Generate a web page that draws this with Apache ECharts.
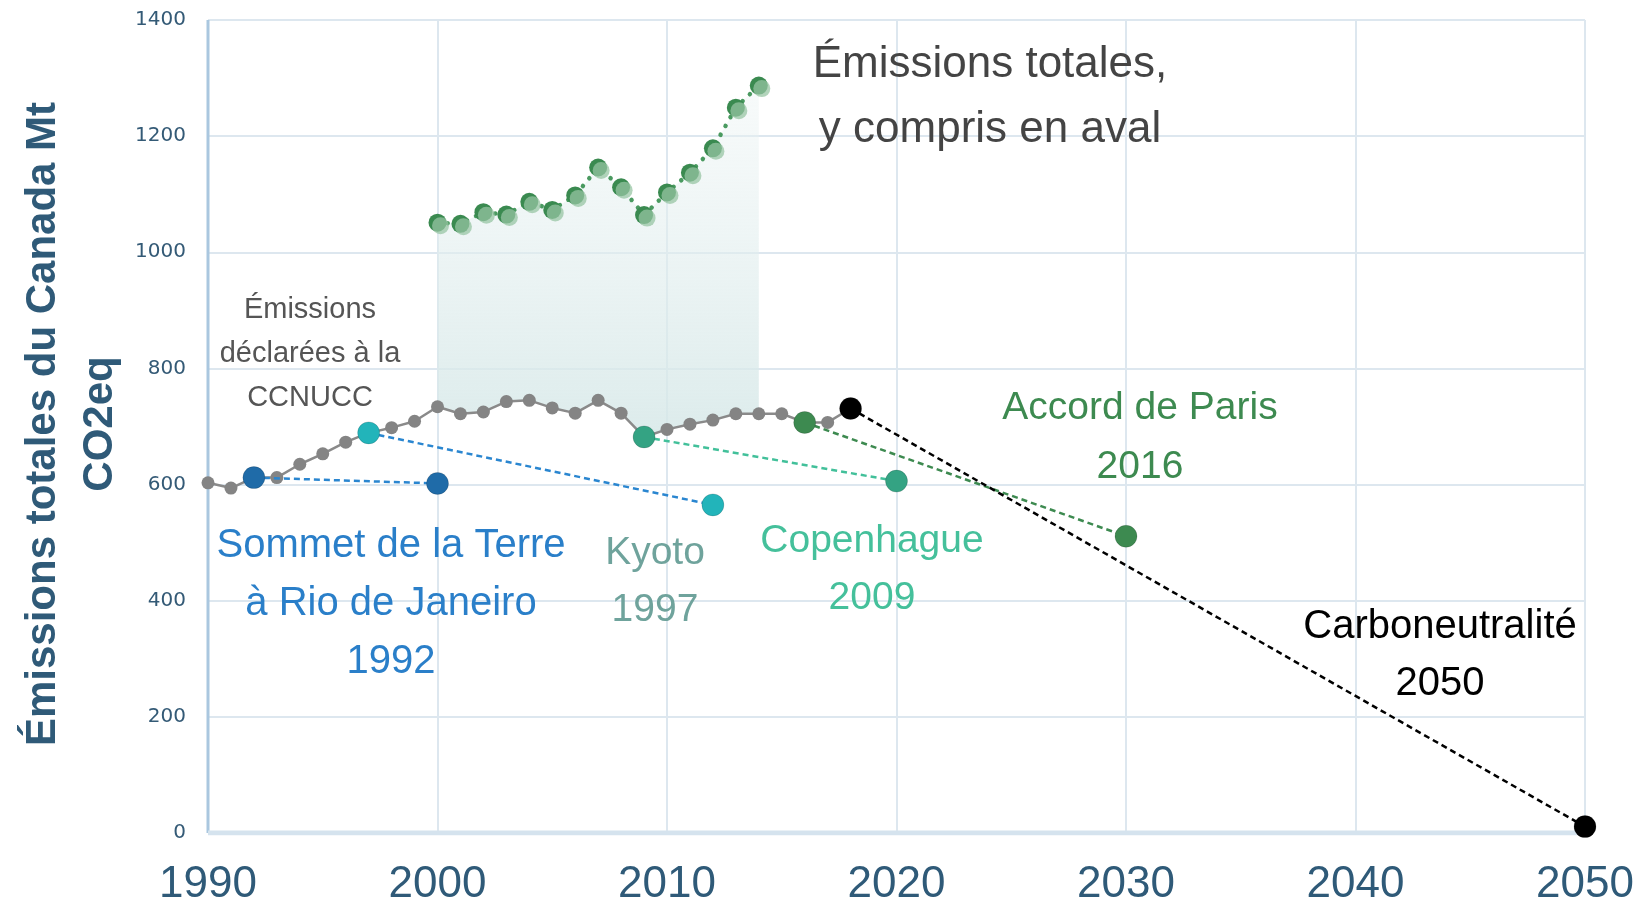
<!DOCTYPE html>
<html>
<head>
<meta charset="utf-8">
<script src="https://cdn.jsdelivr.net/npm/echarts@6/dist/echarts.min.js"></script>
<style>
  html, body { margin: 0; padding: 0; background: #fff; }
  #chart { width: 1640px; height: 903px; }
</style>
</head>
<body>
<div id="chart"></div>
<script>
// émissions déclarées (CCNUCC)
var declYears = [1990,1991,1992,1993,1994,1995,1996,1997,1998,1999,2000,2001,2002,2003,2004,2005,2006,2007,2008,2009,2010,2011,2012,2013,2014,2015,2016,2017,2018];
var declValues = [603,594,612,612,635,653,673,689,698,709,734,722,725,743,745,732,723,745,723,682,695,704,711,722,722,722,707,707,731];
// émissions totales y compris en aval
var avalYears = [2000,2001,2002,2003,2004,2005,2006,2007,2008,2009,2010,2011,2012,2013,2014];
var avalValues = [1051,1049,1069,1065,1087,1073,1098,1146,1112,1064,1103,1137,1179,1249,1287];
// engagements : [année, valeur] début -> cible
var rio = [[1992, 612], [2000, 602]];
var kyoto = [[1997, 689], [2012, 565]];
var copenhague = [[2009, 682], [2020, 606]];
var paris = [[2016, 707], [2030, 511]];
var carbo = [[2018, 731], [2050, 11]];
var xTicks = [1990, 2000, 2010, 2020, 2030, 2040, 2050];

var myChart = echarts.init(document.getElementById('chart'));

function pairs(xs, ys){
    var out = [];
    for (var i = 0; i < xs.length; i++) out.push([xs[i], ys[i]]);
    return out;
}

// ligne pointillée d'engagement
function target(data, lineColor, dotColor){
    return {
        type: 'line',
        data: data,
        z: 5,
        symbol: 'circle',
        symbolSize: 22,
        itemStyle: { color: dotColor, borderColor: 'rgba(0,0,0,0.15)', borderWidth: 1 },
        lineStyle: { color: lineColor, width: 2.5, type: [6, 4] },
        animation: false
    };
}

function txt(text, x, y, size, lh, color){
    return {
        type: 'text', x: x, y: y, z: 100,
        style: {
            text: text, fill: color, align: 'center', verticalAlign: 'middle',
            font: size + 'px "Liberation Sans", Arial, sans-serif', lineHeight: lh
        }
    };
}

var option = {
    animation: false,
    grid: { left: 208, right: 55, top: 20, bottom: 70, containLabel: false, outerBoundsMode: 'none' },
    xAxis: {
        type: 'value', min: 1990, max: 2050, interval: 10,
        axisLine: { show: false },
        axisTick: { show: false },
        splitLine: { lineStyle: { color: '#dde7ef', width: 2 } },
        axisLabel: {
            margin: 30, color: '#2f5a78', fontSize: 44,
            fontFamily: 'Liberation Sans',
            formatter: function(v){ return xTicks.indexOf(v) >= 0 ? String(v) : ''; }
        }
    },
    yAxis: {
        type: 'value', min: 0, max: 1400, interval: 200,
        axisLine: { show: false },
        axisTick: { show: false },
        splitLine: { lineStyle: { color: '#dde7ef', width: 2 } },
        axisLabel: {
            margin: 22, color: '#345a76', fontSize: 20, fontFamily: 'DejaVu Sans',
            formatter: function(v){ return String(v); }
        }
    },
    graphic: [
        // titre de l'axe vertical
        {
            type: 'text', x: 72, y: 424, rotation: Math.PI / 2, z: 100,
            style: {
                text: 'Émissions totales du Canada Mt\nCO2eq',
                fill: '#2f5a78', align: 'center', verticalAlign: 'middle',
                font: 'bold 42px "Liberation Sans", Arial, sans-serif', lineHeight: 57
            }
        },
        txt('Émissions totales,\ny compris en aval', 990, 97, 44, 65, '#444444'),
        txt('Émissions\ndéclarées à la\nCCNUCC', 310, 354, 29, 44, '#555555'),
        txt('Sommet de la Terre\nà Rio de Janeiro\n1992', 391, 604, 40, 58, '#2a7fc9'),
        txt('Kyoto\n1997', 655, 582, 39, 57, '#6fa39c'),
        txt('Copenhague\n2009', 872, 570, 39, 57, '#45c09b'),
        txt('Accord de Paris\n2016', 1140, 438, 39, 59, '#3d8a50'),
        txt('Carboneutralité\n2050', 1440, 655, 40, 57, '#000000')
    ],
    series: [
        // zone entre les deux séries
        {
            type: 'custom',
            z: 1,
            silent: true,
            data: [[avalYears[0], avalValues[0]]],
            renderItem: function(params, api){
                var pts = [];
                for (var i = 0; i < avalYears.length; i++) {
                    pts.push(api.coord([avalYears[i], avalValues[i]]));
                }
                for (var j = declYears.length - 1; j >= 0; j--) {
                    var yr = declYears[j];
                    if (yr >= avalYears[0] && yr <= avalYears[avalYears.length - 1]) {
                        pts.push(api.coord([yr, declValues[j]]));
                    }
                }
                return {
                    type: 'polygon',
                    shape: { points: pts },
                    style: {
                        fill: new echarts.graphic.LinearGradient(0, 0, 0, 1, [
                            { offset: 0, color: 'rgba(235,243,243,0.4)' },
                            { offset: 1, color: 'rgba(214,232,232,0.85)' }
                        ])
                    }
                };
            }
        },
        // axes de bord (bleu clair)
        {
            type: 'line',
            data: [[1990, 0], [1990, 1400]],
            symbol: 'none', z: 2, silent: true,
            lineStyle: { color: '#aac7df', width: 3 }
        },
        {
            type: 'line',
            data: [[1990, 0], [2050, 0]],
            symbol: 'none', z: 2, silent: true,
            lineStyle: { color: '#d5e3ee', width: 5 }
        },
        {
            type: 'line',
            data: pairs(declYears, declValues),
            z: 3,
            symbol: 'circle', symbolSize: 13,
            itemStyle: { color: '#848484' },
            lineStyle: { color: '#8a8a8a', width: 2.5 }
        },
        {
            type: 'line',
            data: pairs(avalYears, avalValues),
            z: 3,
            symbol: 'circle', symbolSize: 18,
            itemStyle: { color: '#3a8a50' },
            lineStyle: { color: '#4a9a60', width: 4.5, type: [0.1, 10], cap: 'round' }
        },
        {
            type: 'scatter',
            data: pairs(avalYears, avalValues),
            z: 4,
            symbolSize: 17, symbolOffset: [3, 3],
            itemStyle: { color: 'rgba(150,196,163,0.92)' }
        },
        target(rio, '#2a86d0', '#1f6ba8'),
        target(kyoto, '#2a86d0', '#22b4ba'),
        target(copenhague, '#42c09a', '#34a383'),
        target(paris, '#3d8a50', '#3d8a50'),
        target(carbo, '#000000', '#000000')
    ]
};
myChart.setOption(option);
</script>
</body>
</html>
